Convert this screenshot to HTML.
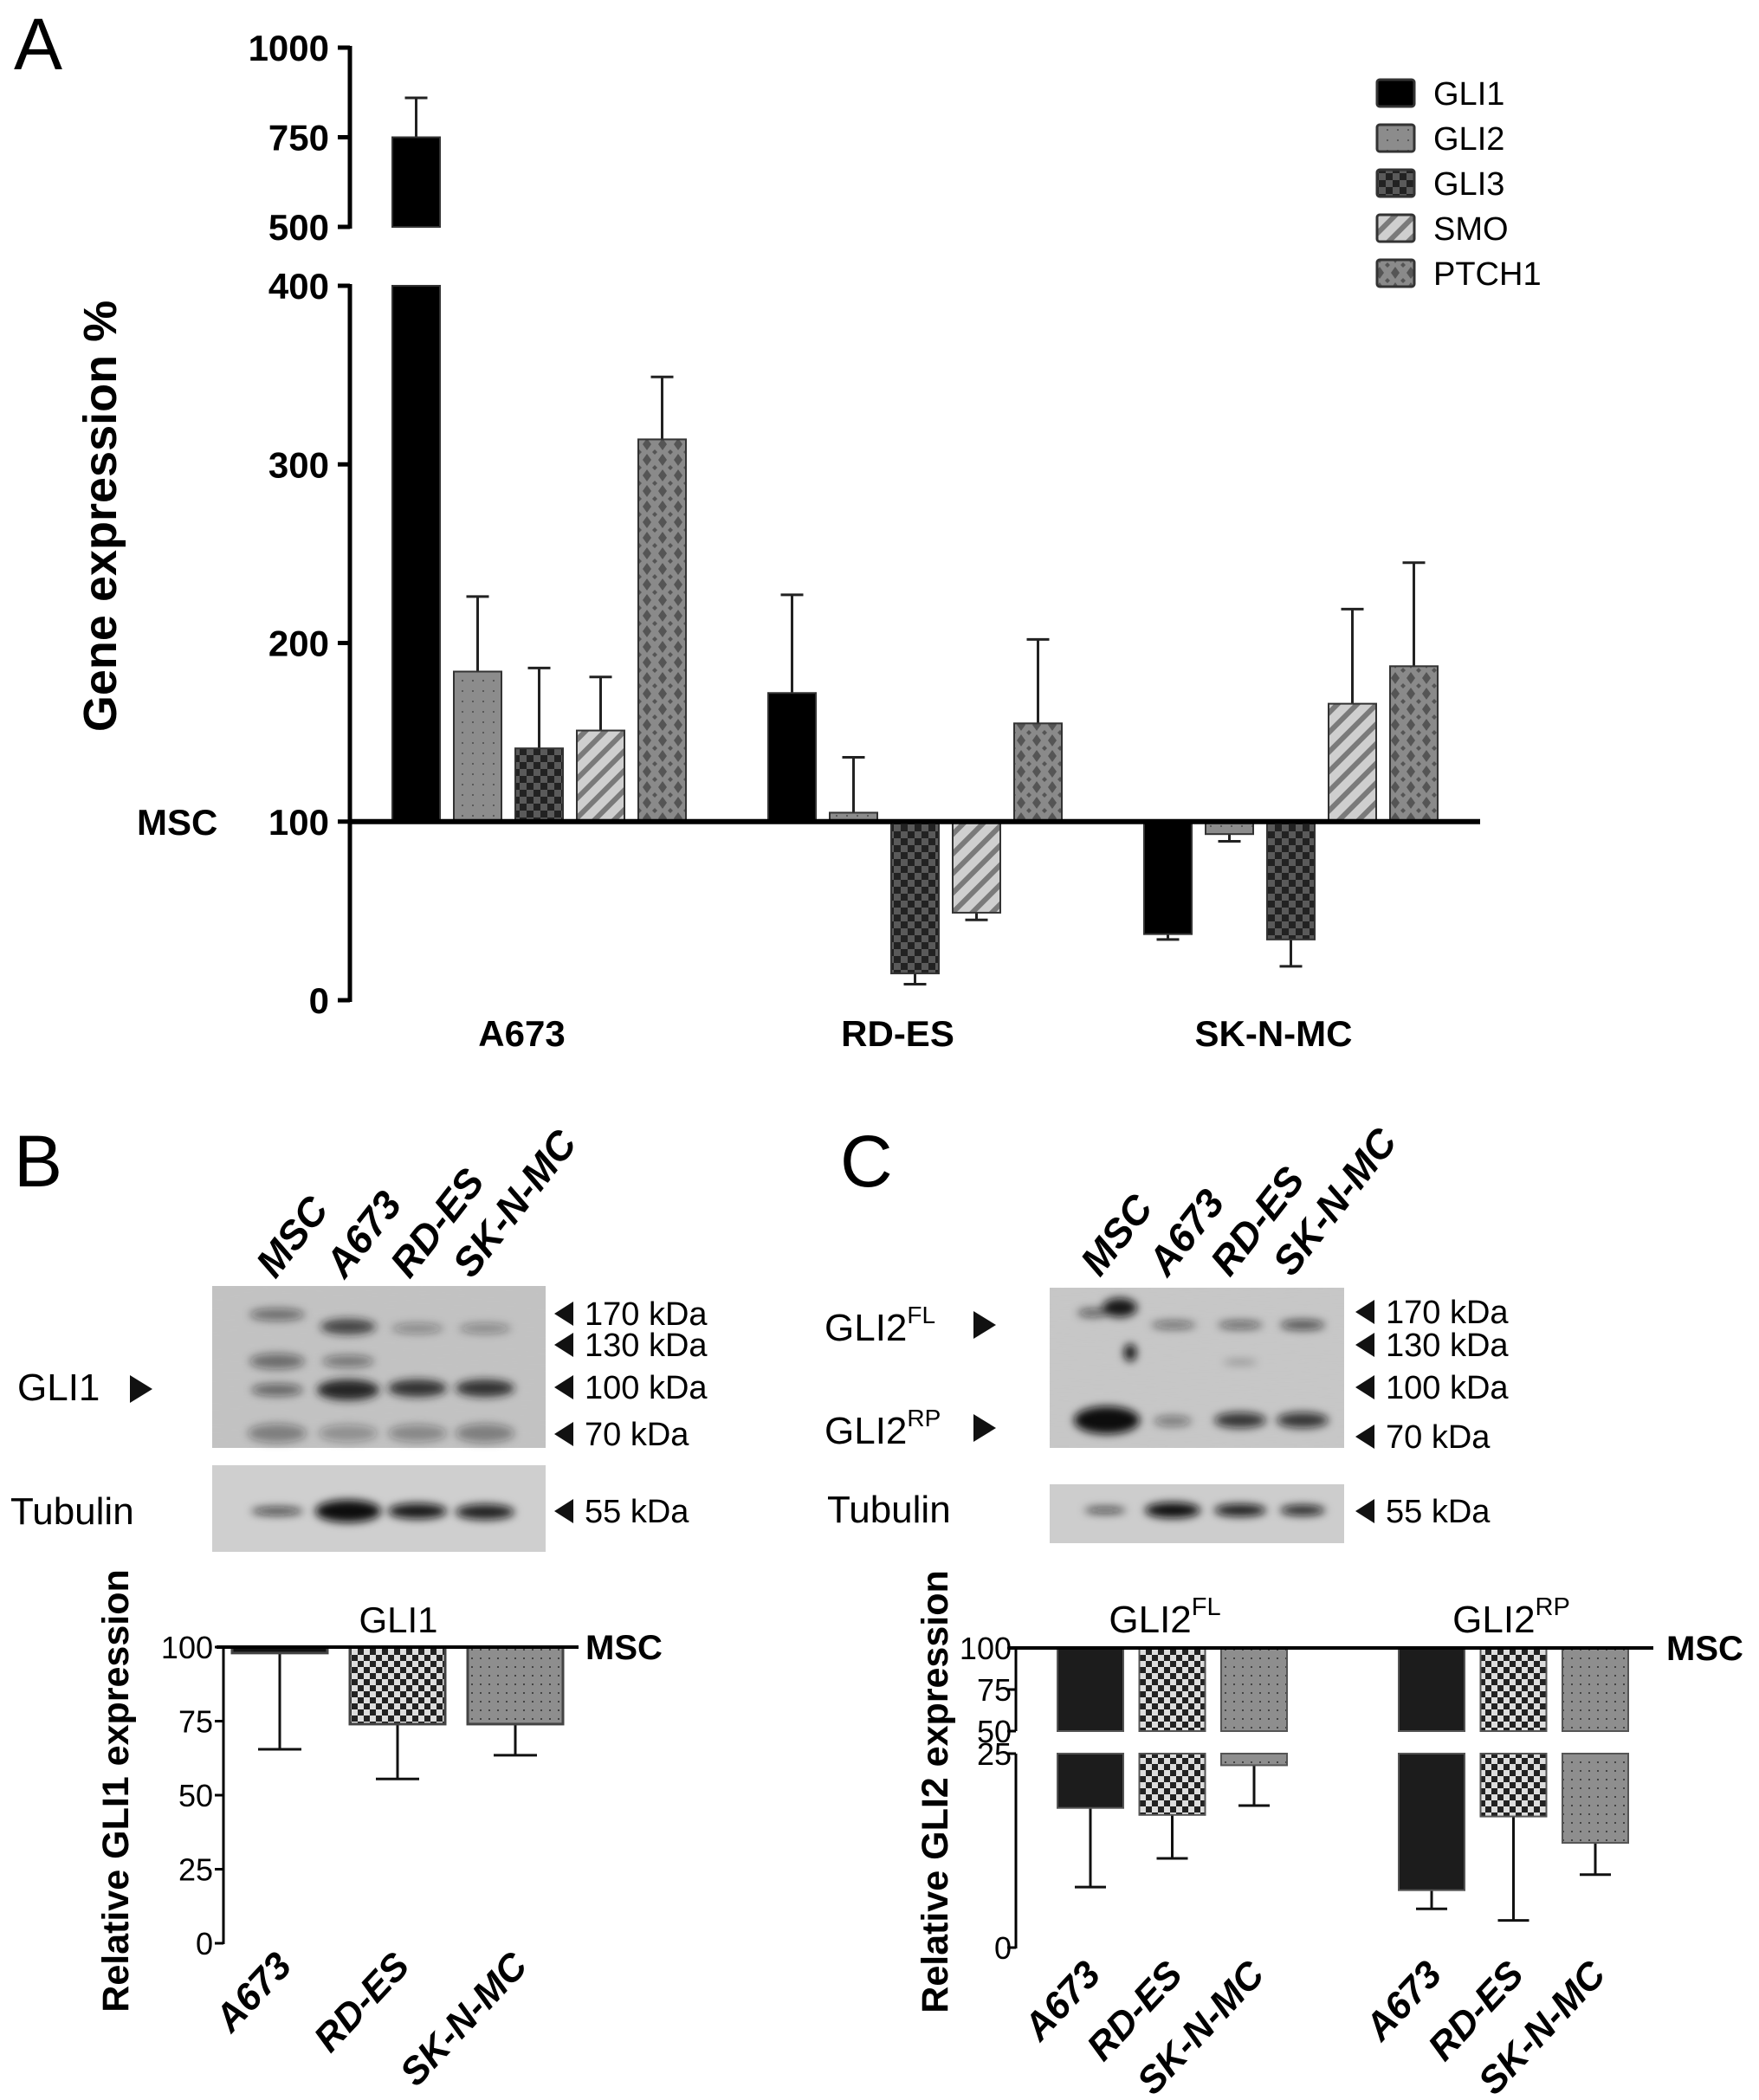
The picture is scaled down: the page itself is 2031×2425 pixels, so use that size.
<!DOCTYPE html>
<html><head><meta charset="utf-8"><style>
html,body{margin:0;padding:0;background:#fff}
svg{display:block}
text{font-family:"Liberation Sans",sans-serif}
.b{font-weight:bold}
</style></head><body>
<svg id="fig" width="2031" height="2425" viewBox="0 0 2031 2425" xmlns="http://www.w3.org/2000/svg">
<defs>
<pattern id="pGli2" width="12" height="12" patternUnits="userSpaceOnUse"><rect width="12" height="12" fill="#8c8c8c"/><rect x="5" y="5" width="2" height="2" fill="#5a5a5a"/></pattern>
<pattern id="pGli3" width="16" height="16" patternUnits="userSpaceOnUse"><rect width="16" height="16" fill="#222"/><rect width="8" height="8" fill="#5a5a5a"/><rect x="8" y="8" width="8" height="8" fill="#5a5a5a"/></pattern>
<pattern id="pSmo" width="16" height="16" patternUnits="userSpaceOnUse" patternTransform="rotate(45)"><rect width="16" height="16" fill="#cfcfcf"/><rect width="6" height="16" fill="#7a7a7a"/></pattern>
<pattern id="pPtch" width="18" height="18" patternUnits="userSpaceOnUse"><rect width="18" height="18" fill="#8a8a8a"/><path d="M9 2 L14 9 L9 16 L4 9Z" fill="#555"/><path d="M0 0 L3 0 L0 3Z M18 0 L15 0 L18 3Z M0 18 L3 18 L0 15Z M18 18 L15 18 L18 15Z" fill="#555"/></pattern>
<pattern id="pCheck" width="14" height="14" patternUnits="userSpaceOnUse"><rect width="14" height="14" fill="#222"/><rect width="7" height="7" fill="#ddd"/><rect x="7" y="7" width="7" height="7" fill="#ddd"/></pattern>
<pattern id="pDot" width="10" height="10" patternUnits="userSpaceOnUse"><rect width="10" height="10" fill="#8e8e8e"/><rect x="4" y="4" width="2" height="2" fill="#444"/></pattern>
<filter id="blur" x="-50%" y="-200%" width="200%" height="500%"><feGaussianBlur stdDeviation="5"/></filter>
<filter id="noise" x="0" y="0" width="1" height="1"><feTurbulence type="fractalNoise" baseFrequency="0.05 0.9" numOctaves="2" seed="3"/><feColorMatrix type="matrix" values="0 0 0 0 0.5  0 0 0 0 0.5  0 0 0 0 0.5  0 0 0 0.18 0"/></filter>
</defs>

<text x="16" y="80" font-size="84">A</text>
<text x="16" y="1370" font-size="84">B</text>
<text x="970" y="1370" font-size="84">C</text>

<g id="chartA"></g>
<g id="legendA"></g>

<g>
 <g font-size="46" font-weight="bold" font-style="italic">
  <text transform="translate(318,1478) rotate(-52)">MSC</text>
  <text transform="translate(398,1478) rotate(-52)">A673</text>
  <text transform="translate(473,1478) rotate(-52)">RD-ES</text>
  <text transform="translate(545,1478) rotate(-52)">SK-N-MC</text>
 </g>
 <rect x="245" y="1485" width="385" height="187" fill="#c3c3c3"/>
 <rect x="245" y="1485" width="385" height="187" filter="url(#noise)"/>
 <g filter="url(#blur)" fill="#1a1a1a">
  <ellipse cx="320" cy="1518" rx="32" ry="7" opacity="0.5"/>
  <ellipse cx="402" cy="1532" rx="32" ry="9" opacity="0.75"/>
  <ellipse cx="482" cy="1534" rx="30" ry="6" opacity="0.35"/>
  <ellipse cx="560" cy="1534" rx="30" ry="6" opacity="0.35"/>
  <ellipse cx="320" cy="1572" rx="32" ry="9" opacity="0.5"/>
  <ellipse cx="402" cy="1572" rx="30" ry="7" opacity="0.45"/>
  <ellipse cx="320" cy="1605" rx="30" ry="7" opacity="0.55"/>
  <ellipse cx="402" cy="1605" rx="36" ry="12" opacity="0.95"/>
  <ellipse cx="482" cy="1603" rx="34" ry="10" opacity="0.85"/>
  <ellipse cx="560" cy="1603" rx="34" ry="10" opacity="0.85"/>
  <ellipse cx="320" cy="1655" rx="34" ry="11" opacity="0.4"/>
  <ellipse cx="402" cy="1655" rx="34" ry="10" opacity="0.3"/>
  <ellipse cx="482" cy="1655" rx="34" ry="10" opacity="0.35"/>
  <ellipse cx="560" cy="1655" rx="34" ry="11" opacity="0.4"/>
 </g>
 <rect x="245" y="1692" width="385" height="100" fill="#cfcfcf"/>
 <g filter="url(#blur)" fill="#111">
  <ellipse cx="320" cy="1745" rx="30" ry="5" opacity="0.7"/>
  <ellipse cx="402" cy="1745" rx="38" ry="13" opacity="1"/>
  <ellipse cx="482" cy="1745" rx="34" ry="9" opacity="0.95"/>
  <ellipse cx="560" cy="1746" rx="34" ry="9" opacity="0.9"/>
 </g>
 <g font-size="38">
  <path d="M640 1517 l22 -14 v28z M640 1553 l22 -14 v28z M640 1602 l22 -14 v28z M640 1656 l22 -14 v28z M640 1745 l22 -14 v28z" fill="#111"/>
  <text x="675" y="1530">170 kDa</text><text x="675" y="1566">130 kDa</text><text x="675" y="1615">100 kDa</text><text x="675" y="1669">70 kDa</text><text x="675" y="1758">55 kDa</text>
 </g>
 <text x="20" y="1617" font-size="44">GLI1</text>
 <path d="M150 1588 l26 16 l-26 16z" fill="#111"/>
 <text x="12" y="1760" font-size="44">Tubulin</text>
</g>

<g>
 <g font-size="46" font-weight="bold" font-style="italic">
  <text transform="translate(1270,1476) rotate(-52)">MSC</text>
  <text transform="translate(1348,1476) rotate(-52)">A673</text>
  <text transform="translate(1420,1476) rotate(-52)">RD-ES</text>
  <text transform="translate(1492,1476) rotate(-52)">SK-N-MC</text>
 </g>
 <rect x="1212" y="1487" width="340" height="185" fill="#c8c8c8"/>
 <rect x="1212" y="1487" width="340" height="185" filter="url(#noise)"/>
 <g filter="url(#blur)" fill="#111">
  <ellipse cx="1262" cy="1516" rx="18" ry="5" opacity="0.6"/>
  <ellipse cx="1293" cy="1510" rx="20" ry="11" opacity="0.95"/>
  <ellipse cx="1305" cy="1562" rx="7" ry="10" opacity="1"/>
  <ellipse cx="1355" cy="1530" rx="26" ry="5" opacity="0.5"/>
  <ellipse cx="1432" cy="1530" rx="26" ry="5" opacity="0.55"/>
  <ellipse cx="1504" cy="1530" rx="26" ry="6" opacity="0.65"/>
  <ellipse cx="1432" cy="1573" rx="20" ry="3" opacity="0.3"/>
  <ellipse cx="1278" cy="1640" rx="38" ry="16" opacity="1"/>
  <ellipse cx="1354" cy="1641" rx="22" ry="6" opacity="0.45"/>
  <ellipse cx="1432" cy="1640" rx="30" ry="9" opacity="0.8"/>
  <ellipse cx="1504" cy="1640" rx="30" ry="9" opacity="0.8"/>
 </g>
 <rect x="1212" y="1714" width="340" height="68" fill="#cdcdcd"/>
 <g filter="url(#blur)" fill="#111">
  <ellipse cx="1276" cy="1744" rx="24" ry="4" opacity="0.7"/>
  <ellipse cx="1354" cy="1744" rx="32" ry="9" opacity="1"/>
  <ellipse cx="1432" cy="1744" rx="30" ry="7" opacity="0.95"/>
  <ellipse cx="1504" cy="1744" rx="26" ry="6" opacity="0.9"/>
 </g>
 <g font-size="38">
  <path d="M1565 1515 l22 -14 v28z M1565 1553 l22 -14 v28z M1565 1602 l22 -14 v28z M1565 1659 l22 -14 v28z M1565 1745 l22 -14 v28z" fill="#111"/>
  <text x="1600" y="1528">170 kDa</text><text x="1600" y="1566">130 kDa</text><text x="1600" y="1615">100 kDa</text><text x="1600" y="1672">70 kDa</text><text x="1600" y="1758">55 kDa</text>
 </g>
 <text x="952" y="1548" font-size="44">GLI2<tspan font-size="28" dy="-20">FL</tspan></text>
 <path d="M1124 1514 l26 16 l-26 16z" fill="#111"/>
 <text x="952" y="1667" font-size="44">GLI2<tspan font-size="28" dy="-20">RP</tspan></text>
 <path d="M1124 1633 l26 16 l-26 16z" fill="#111"/>
 <text x="955" y="1758" font-size="44">Tubulin</text>
</g>

<g id="chartB"></g>
<g id="chartC"></g>
</svg>
<script>
// ---- Panel A data ----
const catsA = ['A673', 'RD-ES', 'SK-N-MC'];
const genesA = ['GLI1', 'GLI2', 'GLI3', 'SMO', 'PTCH1'];
const valGLI1 = [750, 172, 37];
const errGLI1 = [110, 55, 3];
const valGLI2 = [184, 105, 93];
const errGLI2 = [42, 31, 4];
const valGLI3 = [141, 15, 34];
const errGLI3 = [45, 6, 15];
const valSMO = [151, 49, 166];
const errSMO = [30, 4, 53];
const valPTCH1 = [314, 155, 187];
const errPTCH1 = [35, 47, 58];
const ticksAUpper = [500, 750, 1000];
const ticksALower = [0, 100, 200, 300, 400];
// ---- Panel B data ----
const catsB = ['A673', 'RD-ES', 'SK-N-MC'];
const valB = [98, 74, 74];
const errB = [32.5, 18.5, 10.5];
const ticksB = [0, 25, 50, 75, 100];
// ---- Panel C data ----
const groupsC = ['GLI2FL', 'GLI2RP'];
const catsC = ['A673', 'RD-ES', 'SK-N-MC'];
const valFL = [18.0, 17.1, 23.5];
const errFL = [10.2, 5.6, 5.2];
const valRP = [7.4, 16.9, 13.5];
const errRP = [2.4, 13.4, 4.1];
const ticksCUpper = [50, 75, 100];
const ticksCLower = [0, 25];

const NS = 'http://www.w3.org/2000/svg';
function mk(parent, tag, attrs) {
  const e = document.createElementNS(NS, tag);
  for (const k in attrs) e.setAttribute(k, attrs[k]);
  parent.appendChild(e);
  return e;
}

(function () {
  const g = document.getElementById('chartA');
  const axX = 404;
  function yA(v) { return v >= 500 ? 262 - (v - 500) * 0.414 : 1155 - v * 2.0625; }
  const base = yA(100);
  const fills = ['#000', 'url(#pGli2)', 'url(#pGli3)', 'url(#pSmo)', 'url(#pPtch)'];
  const vals = [valGLI1, valGLI2, valGLI3, valSMO, valPTCH1];
  const errs = [errGLI1, errGLI2, errGLI3, errSMO, errPTCH1];
  const groupX0 = 453, groupStep = 434, barStep = 71, bw = 55;
  catsA.forEach((c, ci) => {
    genesA.forEach((gn, gi) => {
      const v = vals[gi][ci], e = errs[gi][ci];
      const x = groupX0 + ci * groupStep + gi * barStep;
      const cx = x + bw / 2;
      const tip = v >= 100 ? v + e : v - e;
      const er = mk(g, 'line', { x1: cx, x2: cx, y1: yA(v), y2: yA(tip), stroke: '#222', 'stroke-width': 3 });
      
      
      const cap = mk(g, 'line', { x1: cx - 13, x2: cx + 13, y1: yA(tip), y2: yA(tip), stroke: '#222', 'stroke-width': 3 });
      
      
      if (v > 400) {
        const r1 = mk(g, 'rect', { x: x, y: yA(v), width: bw, height: yA(500) - yA(v), fill: fills[gi], stroke: '#333', 'stroke-width': 2 });
        
        
        const r2 = mk(g, 'rect', { x: x, y: yA(400), width: bw, height: base - yA(400), fill: fills[gi], stroke: '#333', 'stroke-width': 2 });
        
        
      } else {
        const y1 = Math.min(yA(v), base), y2 = Math.max(yA(v), base);
        const r = mk(g, 'rect', { x: x, y: y1, width: bw, height: y2 - y1, fill: fills[gi], stroke: '#333', 'stroke-width': 2 });
        
        
      }
    });
    const t = mk(g, 'text', { x: groupX0 + ci * groupStep + 2 * barStep + bw / 2 - 20, y: 1208, 'font-size': 42, 'font-weight': 'bold', 'text-anchor': 'middle' });
    t.textContent = c;
    
    
  });
  const bl = mk(g, 'line', { x1: axX, x2: 1709, y1: base, y2: base, stroke: '#000', 'stroke-width': 6 });
  
  
  const a1 = mk(g, 'line', { x1: axX, x2: axX, y1: yA(1000) - 2, y2: yA(500) + 2, stroke: '#000', 'stroke-width': 5 });
  
  
  const a2 = mk(g, 'line', { x1: axX, x2: axX, y1: yA(400) - 2, y2: yA(0) + 2, stroke: '#000', 'stroke-width': 5 });
  
  
  ticksAUpper.concat(ticksALower).forEach(v => {
    mk(g, 'line', { x1: axX - 14, x2: axX, y1: yA(v), y2: yA(v), stroke: '#000', 'stroke-width': 5 });
    const t = mk(g, 'text', { x: 380, y: yA(v) + 15, 'font-size': 42, 'font-weight': 'bold', 'text-anchor': 'end' });
    t.textContent = v;
    
    
  });
  const msc = mk(g, 'text', { x: 158, y: base + 15, 'font-size': 42, 'font-weight': 'bold' });
  msc.textContent = 'MSC';
  
  
  const yt = mk(g, 'text', { transform: 'translate(134,596) rotate(-90)', 'font-size': 54, 'font-weight': 'bold', 'text-anchor': 'middle' });
  yt.textContent = 'Gene expression %';
  
  
  const lg = document.getElementById('legendA');
  genesA.forEach((gn, i) => {
    const y = 92 + i * 52;
    const s = mk(lg, 'rect', { x: 1590, y: y, width: 43, height: 31, rx: 3, fill: fills[i], stroke: '#333', 'stroke-width': 3 });
    
    
    const t = mk(lg, 'text', { x: 1655, y: y + 29, 'font-size': 38 });
    t.textContent = gn;
    
    
  });
})();

(function () {
  const g = document.getElementById('chartB');
  const axX = 258;
  function yB(v) { return 2244 - v * 3.42; }
  const fills = ['#111', 'url(#pCheck)', 'url(#pDot)'];
  const x0 = 268, step = 136, bw = 110;
  catsB.forEach((c, i) => {
    const x = x0 + i * step, cx = x + bw / 2, v = valB[i], tip = v - errB[i];
    const er = mk(g, 'line', { x1: cx, x2: cx, y1: yB(v), y2: yB(tip), stroke: '#111', 'stroke-width': 3 });
    
    
    mk(g, 'line', { x1: cx - 25, x2: cx + 25, y1: yB(tip), y2: yB(tip), stroke: '#111', 'stroke-width': 3 });
    const r = mk(g, 'rect', { x: x, y: yB(100), width: bw, height: yB(v) - yB(100), fill: fills[i], stroke: '#444', 'stroke-width': 3 });
    
    
    const t = mk(g, 'text', { transform: 'translate(' + (cx + 16) + ',2272) rotate(-47)', 'font-size': 44, 'font-weight': 'bold', 'font-style': 'italic', 'text-anchor': 'end' });
    t.textContent = c;
    
    
  });
  const bl = mk(g, 'line', { x1: 250, x2: 668, y1: yB(100), y2: yB(100), stroke: '#000', 'stroke-width': 4 });
  
  
  const ax = mk(g, 'line', { x1: axX, x2: axX, y1: yB(100), y2: yB(0) + 1, stroke: '#000', 'stroke-width': 3 });
  
  
  ticksB.forEach(v => {
    mk(g, 'line', { x1: axX - 10, x2: axX, y1: yB(v), y2: yB(v), stroke: '#000', 'stroke-width': 3 });
    const t = mk(g, 'text', { x: 246, y: yB(v) + 13, 'font-size': 36, 'text-anchor': 'end' });
    t.textContent = v;
    
    
  });
  const msc = mk(g, 'text', { x: 676, y: yB(100) + 14, 'font-size': 40, 'font-weight': 'bold' });
  msc.textContent = 'MSC';
  
  
  const tt = mk(g, 'text', { x: 460, y: 1885, 'font-size': 42, 'text-anchor': 'middle' });
  tt.textContent = 'GLI1';
  
  
  const yt = mk(g, 'text', { transform: 'translate(148,2068) rotate(-90)', 'font-size': 43, 'font-weight': 'bold', 'text-anchor': 'middle' });
  yt.textContent = 'Relative GLI1 expression';
  
  
})();

(function () {
  const g = document.getElementById('chartC');
  const axX = 1173;
  function yC(v) { return v >= 50 ? 1903 + (100 - v) * 1.92 : 2249 - v * 8.96; }
  const fills = ['#1c1c1c', 'url(#pCheck)', 'url(#pDot)'];
  const vals = [valFL, valRP], errs = [errFL, errRP];
  const x0 = 1221, gstep = 394, step = 94.5, bw = 76;
  groupsC.forEach((grp, gi) => {
    catsC.forEach((c, i) => {
      const x = x0 + gi * gstep + i * step, cx = x + bw / 2, v = vals[gi][i], tip = v - errs[gi][i];
      const er = mk(g, 'line', { x1: cx, x2: cx, y1: yC(v), y2: yC(tip), stroke: '#111', 'stroke-width': 3 });
      
      
      mk(g, 'line', { x1: cx - 18, x2: cx + 18, y1: yC(tip), y2: yC(tip), stroke: '#111', 'stroke-width': 3 });
      const r1 = mk(g, 'rect', { x: x, y: yC(100), width: bw, height: yC(50) - yC(100), fill: fills[i], stroke: '#555', 'stroke-width': 2 });
      
      
      const r2 = mk(g, 'rect', { x: x, y: yC(25), width: bw, height: yC(v) - yC(25), fill: fills[i], stroke: '#555', 'stroke-width': 2 });
      
      
      const t = mk(g, 'text', { transform: 'translate(' + (cx + 14) + ',2282) rotate(-47)', 'font-size': 44, 'font-weight': 'bold', 'font-style': 'italic', 'text-anchor': 'end' });
      t.textContent = c;
      
      
    });
    const tt = mk(g, 'text', { x: 1345 + gi * 400, y: 1885, 'font-size': 44, 'text-anchor': 'middle' });
    tt.textContent = 'GLI2';
    const sup = mk(tt, 'tspan', { 'font-size': 29, dy: -20 });
    sup.textContent = grp.slice(4);
    
    
  });
  const bl = mk(g, 'line', { x1: 1165, x2: 1909, y1: yC(100), y2: yC(100), stroke: '#000', 'stroke-width': 4 });
  
  
  const a1 = mk(g, 'line', { x1: axX, x2: axX, y1: yC(100), y2: yC(50), stroke: '#000', 'stroke-width': 3 });
  
  
  const a2 = mk(g, 'line', { x1: axX, x2: axX, y1: yC(25), y2: yC(0) + 1, stroke: '#000', 'stroke-width': 3 });
  
  
  ticksCUpper.concat(ticksCLower).forEach(v => {
    mk(g, 'line', { x1: axX - 10, x2: axX, y1: yC(v), y2: yC(v), stroke: '#000', 'stroke-width': 3 });
    const t = mk(g, 'text', { x: 1168, y: yC(v) + 13, 'font-size': 36, 'text-anchor': 'end' });
    t.textContent = v;
    
    
  });
  const msc = mk(g, 'text', { x: 1924, y: yC(100) + 14, 'font-size': 40, 'font-weight': 'bold' });
  msc.textContent = 'MSC';
  
  
  const yt = mk(g, 'text', { transform: 'translate(1094,2069) rotate(-90)', 'font-size': 43, 'font-weight': 'bold', 'text-anchor': 'middle' });
  yt.textContent = 'Relative GLI2 expression';
  
  
})();
</script>
</body></html>
